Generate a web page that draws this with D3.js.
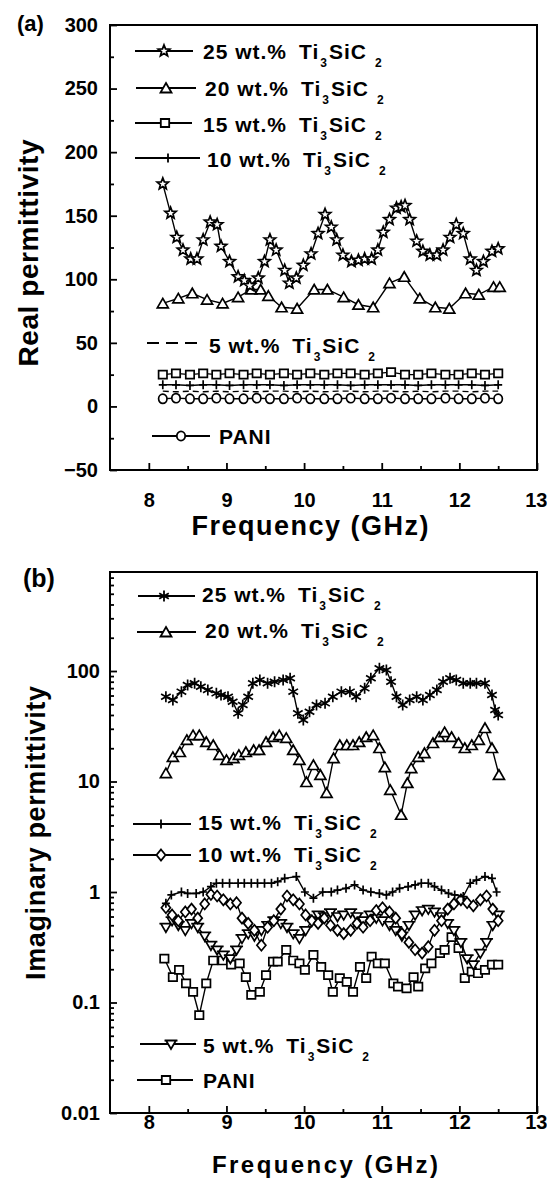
<!DOCTYPE html>
<html>
<head>
<meta charset="utf-8">
<script src="https://cdn.jsdelivr.net/npm/d3@7"></script>
<style>
  body { margin: 0; background: #fff; }
  text { font-family: "Liberation Sans", Arial, sans-serif; font-weight: bold; fill: #000; }
  .leg { font-size: 21px; letter-spacing: 1px; }
  .sub { font-size: 12px; }
</style>
</head>
<body>
<svg id="chart" width="547" height="1180"></svg>
<script>
// ---- data ----
const legendLabels = ['25 wt.%', '20 wt.%', '15 wt.%', '10 wt.%', '5 wt.%', 'PANI'];
const xTicks = [8, 9, 10, 11, 12, 13];
const yTicksA = [-50, 0, 50, 100, 150, 200, 250, 300];
const yTicksB = [0.01, 0.1, 1, 10, 100];

// (a) real permittivity
const freqA25 = [8.18,8.28,8.36,8.44,8.54,8.62,8.70,8.79,8.88,8.93,9.04,9.15,9.23,9.30,9.41,9.49,9.56,9.64,9.75,9.81,9.90,9.99,10.09,10.18,10.27,10.35,10.42,10.50,10.61,10.70,10.78,10.87,10.95,11.02,11.10,11.19,11.25,11.30,11.36,11.45,11.53,11.62,11.71,11.79,11.88,11.96,12.05,12.14,12.22,12.31,12.42,12.50];
const realA25 = [175,152,133,123,116,116,131,145,143,126,114,102,99,95,101,114,131,123,107,97,101,111,120,136,151,141,131,119,114,115,116,116,123,137,147,156,157,158,147,130,122,119,119,123,133,143,136,116,107,114,122,124];
const freqA20 = [8.18,8.38,8.56,8.75,8.95,9.15,9.32,9.44,9.54,9.71,9.91,10.13,10.30,10.51,10.70,10.89,11.10,11.29,11.49,11.69,11.87,12.08,12.25,12.44,12.52];
const realA20 = [81,85,89,84,81,86,92,92,87,78,77,92,92,86,80,78,97,102,85,78,77,89,88,94,94];
const freqAFlat = [8.18,8.35,8.53,8.70,8.87,9.04,9.22,9.39,9.56,9.74,9.91,10.08,10.26,10.43,10.60,10.78,10.95,11.12,11.30,11.47,11.64,11.82,11.99,12.16,12.33,12.50];
const realA15 = [25,26,25,26,25,26,25,26,25,26,25,26,25,26,26,25,26,27,25,25,26,25,25,26,25,26];
const realA10 = [17,17,16.5,17,17,16.5,17,17,17,16.5,17,17,17,17,16.5,17,17,17,17,16.5,17,17,17,17,16.5,17];
const realA5 = [12,11.5,12,11.5,12,11.5,12,11.5,12,12,11.5,12,11.5,12,12,11.5,12,12,11.5,12,11.5,12,12,11.5,12,12];
const realAPani = [6,6.5,6,6,6.5,6,6,6.5,6,6,6.5,6,6,6,6.5,6,6,6.5,6,6,6,6.5,6,6,6.5,6];

// (b) imaginary permittivity
const freqB25 = [8.22,8.31,8.42,8.50,8.59,8.67,8.76,8.87,8.93,9.02,9.08,9.15,9.21,9.28,9.34,9.43,9.53,9.62,9.73,9.82,9.86,9.92,9.99,10.07,10.16,10.27,10.37,10.48,10.59,10.67,10.78,10.86,10.97,11.06,11.12,11.19,11.27,11.36,11.45,11.53,11.62,11.71,11.79,11.88,11.96,12.05,12.14,12.22,12.33,12.42,12.46,12.50];
const imagB25 = [58.5,54.7,65,74.7,77.4,72.1,67.3,62.8,60.7,58.5,52.7,41.4,49.2,58.5,77.4,82.9,77.4,80,82.9,85.9,65,41.4,36,42.8,49.2,51,58.5,65,65,58.5,69.7,85.9,105.7,102.1,80,58.5,49.2,54.7,58.5,54.7,60.7,67.3,80,85.9,82.9,77.4,77.4,77.4,77.4,60.7,44.4,40];
const freqB20 = [8.22,8.31,8.40,8.49,8.57,8.65,8.74,8.83,8.91,9.00,9.09,9.16,9.25,9.35,9.42,9.51,9.60,9.68,9.77,9.86,9.94,10.03,10.12,10.21,10.29,10.38,10.46,10.55,10.63,10.71,10.80,10.89,10.97,11.04,11.11,11.25,11.33,11.38,11.47,11.55,11.66,11.74,11.81,11.90,11.99,12.07,12.16,12.25,12.33,12.42,12.51];
const imagB20 = [11.9,16.7,18.5,23.8,26.3,26.3,22.8,21.4,17.4,15.7,16.3,17.4,18.5,19.3,19.3,22.8,25.3,26.3,24.8,19.3,15.7,9.9,14.1,11.5,7.9,16.3,21.4,21.4,21.4,22.8,25.3,26.3,20.1,13.5,8.4,5.0,9.7,13.2,16.7,18.1,22.3,25.3,28.0,25.3,22.3,20.1,21.4,23.8,30.5,20.1,11.5];
const freqB15 = [8.22,8.29,8.42,8.50,8.61,8.70,8.80,8.87,8.95,9.04,9.15,9.23,9.32,9.40,9.49,9.58,9.66,9.75,9.90,10.01,10.12,10.24,10.35,10.43,10.54,10.65,10.76,10.86,10.97,11.06,11.14,11.23,11.34,11.43,11.51,11.60,11.68,11.77,11.86,11.94,12.05,12.14,12.22,12.33,12.42,12.48];
const imagB15 = [0.79,0.94,1.0,0.97,0.97,1.0,1.12,1.2,1.2,1.2,1.2,1.2,1.2,1.2,1.2,1.2,1.24,1.33,1.38,1.0,0.88,1.0,1.0,1.04,1.08,1.16,1.04,1.0,0.97,0.94,1.0,1.08,1.12,1.16,1.2,1.2,1.12,1.04,0.97,0.94,0.91,1.2,1.28,1.38,1.33,1.0];
const freqB10 = [8.22,8.30,8.38,8.47,8.55,8.63,8.72,8.80,8.88,8.96,9.05,9.13,9.20,9.28,9.36,9.45,9.53,9.61,9.70,9.78,9.86,9.94,10.02,10.10,10.18,10.26,10.34,10.43,10.51,10.60,10.68,10.76,10.85,10.93,11.01,11.10,11.18,11.26,11.35,11.43,11.52,11.60,11.68,11.77,11.85,11.93,12.02,12.10,12.18,12.27,12.35,12.43,12.50];
const imagB10 = [0.72,0.62,0.55,0.66,0.70,0.58,0.78,0.95,0.92,0.85,0.78,0.80,0.58,0.52,0.45,0.33,0.48,0.55,0.70,0.92,0.85,0.78,0.62,0.55,0.52,0.58,0.50,0.45,0.42,0.45,0.52,0.48,0.55,0.68,0.72,0.66,0.58,0.42,0.35,0.30,0.28,0.32,0.45,0.55,0.70,0.78,0.85,0.80,0.75,0.85,0.92,0.70,0.55];
const imagB5 = [0.48,0.55,0.50,0.45,0.52,0.48,0.40,0.33,0.30,0.27,0.25,0.30,0.38,0.42,0.40,0.45,0.50,0.55,0.52,0.48,0.42,0.38,0.45,0.55,0.62,0.60,0.65,0.60,0.62,0.65,0.60,0.55,0.62,0.58,0.55,0.50,0.45,0.40,0.50,0.62,0.68,0.70,0.66,0.60,0.52,0.45,0.35,0.25,0.22,0.28,0.35,0.50,0.62];
const freqBPani = [8.20,8.31,8.39,8.48,8.57,8.65,8.74,8.83,8.95,9.06,9.17,9.25,9.32,9.43,9.51,9.60,9.66,9.77,9.86,9.94,10.01,10.12,10.22,10.31,10.37,10.46,10.55,10.63,10.72,10.80,10.87,10.95,11.04,11.15,11.21,11.32,11.41,11.47,11.56,11.64,11.75,11.81,11.90,11.99,12.07,12.16,12.24,12.33,12.42,12.50];
const imagBPani = [0.25,0.17,0.197,0.149,0.125,0.077,0.149,0.24,0.24,0.22,0.226,0.17,0.117,0.125,0.177,0.234,0.234,0.30,0.24,0.226,0.197,0.27,0.21,0.177,0.125,0.166,0.154,0.125,0.21,0.166,0.26,0.226,0.226,0.149,0.139,0.134,0.17,0.139,0.204,0.226,0.28,0.30,0.39,0.31,0.166,0.19,0.184,0.197,0.22,0.22];

// ---- marker shapes ----
function starPath(ro, ri) {
  let p = '';
  for (let i = 0; i < 10; i++) {
    const r = i % 2 ? ri : ro;
    const a = -Math.PI / 2 + i * Math.PI / 5;
    p += (i ? 'L' : 'M') + (r * Math.cos(a)).toFixed(2) + ',' + (r * Math.sin(a)).toFixed(2);
  }
  return p + 'Z';
}
const shapes = {
  star: { d: starPath(6, 2.6), fill: '#fff' },
  asterisk: { d: 'M0,-5.5V5.5M-4.8,-2.8L4.8,2.8M-4.8,2.8L4.8,-2.8', fill: 'none' },
  triangle: { d: 'M0,-5L5.5,4.5L-5.5,4.5Z', fill: '#fff' },
  square: { d: 'M-4.2,-4H4.2V4H-4.2Z', fill: '#fff' },
  plus: { d: 'M-4,0H4M0,-4.5V4.5', fill: 'none' },
  circle: { d: 'M4.2,0A4.2,4.6 0 1,1 -4.2,0A4.2,4.6 0 1,1 4.2,0Z', fill: '#fff' },
  diamond: { d: 'M0,-5.5L4.5,0L0,5.5L-4.5,0Z', fill: '#fff' },
  invTri: { d: 'M-5,-3.5H5L0,5Z M-6.5,-3.5H6.5', fill: '#fff' },
  none: null
};

const svg = d3.select('#chart');
svg.append('rect').attr('width', 547).attr('height', 1180).attr('fill', '#fff');

const x = d3.scaleLinear().domain([7.5, 13]).range([110, 537]);
const yA = d3.scaleLinear().domain([-50, 300]).range([470, 25]);
const yB = d3.scaleLog().domain([0.01, 787]).range([1113, 572]);
const fmtInt = d3.format('d');

function drawSeries(xs, ys, y, shape, dash) {
  const pts = xs.map((f, i) => [x(f), y(ys[i])]);
  svg.append('path')
    .attr('d', d3.line()(pts))
    .attr('fill', 'none')
    .attr('stroke', '#000')
    .attr('stroke-width', 1.4)
    .attr('stroke-dasharray', dash || null);
  const s = shapes[shape];
  if (!s) return;
  svg.append('g').selectAll('path')
    .data(pts)
    .enter()
    .append('path')
    .attr('transform', d => `translate(${d[0]},${d[1]})`)
    .attr('d', s.d)
    .attr('fill', s.fill)
    .attr('stroke', '#000')
    .attr('stroke-width', 1.7);
}

function styleAxis(g) {
  g.select('.domain').remove();
  g.selectAll('.tick line').attr('stroke', '#000').attr('stroke-width', 1.8);
  g.selectAll('.tick text').attr('font-size', 20).attr('font-family', '"Liberation Sans", Arial, sans-serif').attr('font-weight', 'bold');
  // the last x label sits on the page edge; keep it inside
  g.selectAll('.tick text').filter(d => d === 13).attr('text-anchor', 'end').attr('x', 10);
}

function drawFrame(top, bottom) {
  svg.append('rect')
    .attr('x', 110).attr('y', top)
    .attr('width', 427).attr('height', bottom - top)
    .attr('fill', 'none').attr('stroke', '#000').attr('stroke-width', 2);
}

function chemLabel(tx, base, label) {
  const t = svg.append('text').attr('class', 'leg').attr('x', tx).attr('y', base);
  t.append('tspan').text(label);
  if (label === 'PANI') return;
  t.append('tspan').attr('dx', 12).text('Ti');
  t.append('tspan').attr('class', 'sub').attr('dx', 1).attr('dy', 8).text('3');
  t.append('tspan').attr('dx', 1).attr('dy', -8).text('SiC');
  t.append('tspan').attr('class', 'sub').attr('dx', 8).attr('dy', 8).text('2');
}

function legendRow(label, shape, lineY, x0, x1, mx, tx, base, dash) {
  svg.append('line').attr('x1', x0).attr('x2', x1).attr('y1', lineY).attr('y2', lineY)
    .attr('stroke', '#000').attr('stroke-width', 1.8).attr('stroke-dasharray', dash || null);
  const s = shapes[shape];
  if (s) {
    svg.append('path').attr('transform', `translate(${mx},${lineY})`).attr('d', s.d)
      .attr('fill', s.fill).attr('stroke', '#000').attr('stroke-width', 1.8);
  }
  chemLabel(tx, base, label);
}

// ================= panel (a) =================
drawFrame(25, 470);
svg.append('g').attr('transform', 'translate(110,0)')
  .call(d3.axisLeft(yA).tickValues(yTicksA).tickSize(-7).tickPadding(12).tickFormat(fmtInt)).call(styleAxis);
svg.append('g').attr('transform', 'translate(110,0)')
  .call(d3.axisLeft(yA).tickValues(d3.range(-25, 300, 50)).tickSize(-4).tickFormat('')).call(styleAxis);
svg.append('g').attr('transform', 'translate(0,470)')
  .call(d3.axisBottom(x).tickValues(xTicks).tickSize(-7).tickPadding(23).tickFormat(fmtInt)).call(styleAxis);
svg.append('g').attr('transform', 'translate(0,470)')
  .call(d3.axisBottom(x).tickValues(d3.range(8.5, 13, 1)).tickSize(-4).tickFormat('')).call(styleAxis);

drawSeries(freqAFlat, realAPani, yA, 'circle');
drawSeries(freqAFlat, realA5, yA, 'none', '6,4');
drawSeries(freqAFlat, realA10, yA, 'plus');
drawSeries(freqAFlat, realA15, yA, 'square');
drawSeries(freqA20, realA20, yA, 'triangle');
drawSeries(freqA25, realA25, yA, 'star');

legendRow(legendLabels[0], 'star', 51, 135, 193, 164, 203, 59);
legendRow(legendLabels[1], 'triangle', 88, 136, 196, 166, 205, 96);
legendRow(legendLabels[2], 'square', 123, 135, 192, 165, 203, 132);
legendRow(legendLabels[3], 'plus', 158, 135, 200, 168, 207, 167);
legendRow(legendLabels[4], 'none', 343, 147, 200, 0, 209, 353, '12,7');
legendRow(legendLabels[5], 'circle', 436, 152, 210, 181, 219, 444);

svg.append('text').attr('x', 17).attr('y', 31).attr('font-size', 22).text('(a)');
svg.append('text').attr('text-anchor', 'middle').attr('font-size', 28)
  .attr('transform', 'translate(38,253) rotate(-90)').attr('textLength', 227).text('Real permittivity');
svg.append('text').attr('text-anchor', 'middle').attr('font-size', 27)
  .attr('x', 310).attr('y', 535).attr('textLength', 237).text('Frequency (GHz)');

// ================= panel (b) =================
drawFrame(572, 1113);
svg.append('g').attr('transform', 'translate(110,0)')
  .call(d3.axisLeft(yB).tickValues(yTicksB).tickSize(-7).tickPadding(10).tickFormat(d => String(d))).call(styleAxis);
svg.append('g').attr('transform', 'translate(110,0)')
  .call(d3.axisLeft(yB).tickValues(yB.ticks().filter(v => !yTicksB.includes(v))).tickSize(-4).tickFormat('')).call(styleAxis);
svg.append('g').attr('transform', 'translate(0,1113)')
  .call(d3.axisBottom(x).tickValues(xTicks).tickSize(-7).tickPadding(2).tickFormat(fmtInt)).call(styleAxis);
svg.append('g').attr('transform', 'translate(0,1113)')
  .call(d3.axisBottom(x).tickValues(d3.range(8.5, 13, 1)).tickSize(-4).tickFormat('')).call(styleAxis);

drawSeries(freqBPani, imagBPani, yB, 'square');
drawSeries(freqB10, imagB5, yB, 'invTri');
drawSeries(freqB10, imagB10, yB, 'diamond');
drawSeries(freqB15, imagB15, yB, 'plus');
drawSeries(freqB20, imagB20, yB, 'triangle');
drawSeries(freqB25, imagB25, yB, 'asterisk');

legendRow(legendLabels[0], 'asterisk', 596, 138, 195, 164, 202, 602);
legendRow(legendLabels[1], 'triangle', 632, 137, 196, 166, 205, 638);
legendRow(legendLabels[2], 'plus', 824, 133, 191, 161, 198, 830);
legendRow(legendLabels[3], 'diamond', 855, 133, 191, 161, 198, 862);
legendRow(legendLabels[4], 'invTri', 1044, 140, 196, 171, 203, 1053);
legendRow(legendLabels[5], 'square', 1080, 137, 193, 166, 203, 1088);

svg.append('text').attr('x', 23).attr('y', 587).attr('font-size', 25).text('(b)');
svg.append('text').attr('text-anchor', 'middle').attr('font-size', 27)
  .attr('transform', 'translate(45,833) rotate(-90)').attr('textLength', 294).text('Imaginary permittivity');
svg.append('text').attr('text-anchor', 'middle').attr('font-size', 24)
  .attr('x', 325).attr('y', 1173).attr('textLength', 226).text('Frequency (GHz)');
</script>
</body>
</html>
